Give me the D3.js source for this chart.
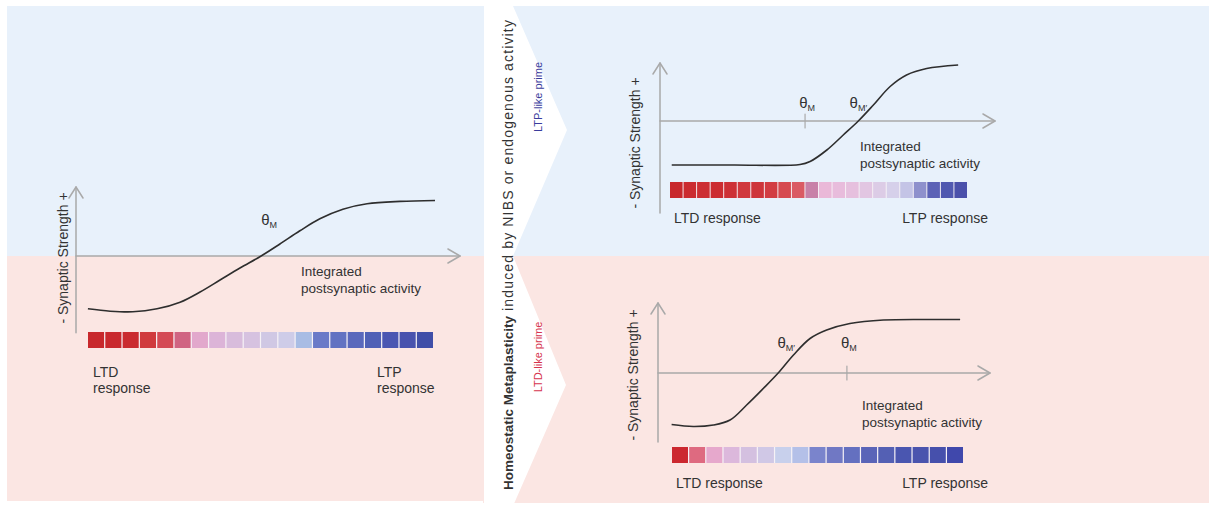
<!DOCTYPE html>
<html><head><meta charset="utf-8">
<script src="https://cdn.jsdelivr.net/npm/d3@7"></script>
<style>
body{margin:0;background:#fff}
svg{display:block}
text{font-family:"Liberation Sans",Arial,Helvetica,sans-serif;fill:#333}
</style>
</head><body>
<svg id="c" width="1213" height="506"></svg>
<script>
// ---------------- DATA ----------------
// Left (baseline) curve: integrated postsynaptic activity (0-10) vs synaptic strength (-1..1)
const leftActivity = [0.31,0.89,1.48,2.11,2.71,3.23,3.75,4.27,4.82,5.31,5.83,6.35,6.95,7.58,8.44,9.35];
const leftStrength = [-0.88,-0.92,-0.93,-0.88,-0.77,-0.60,-0.40,-0.20,0,0.20,0.42,0.62,0.78,0.87,0.91,0.925];
// Top right: after LTP-like prime (threshold shifted right)
const topActivity = [0.35,2.19,4.18,4.48,4.98,5.47,5.92,6.37,6.87,7.36,7.96,8.90];
const topStrength = [-0.88,-0.88,-0.87,-0.81,-0.58,-0.28,0,0.32,0.69,0.92,1.05,1.12];
// Bottom right: after LTD-like prime (threshold shifted left)
const bottomActivity = [0.41,1.06,1.67,2.17,2.67,3.17,3.62,4.08,4.58,5.08,5.78,6.79,8.29,9.10];
const bottomStrength = [-1.03,-1.07,-1.04,-0.94,-0.64,-0.31,0,0.36,0.69,0.86,0.99,1.06,1.07,1.07];

// Response colour bars (LTD -> LTP)
const leftBarColors = ["#c8282c","#c9292e","#ca2b30","#d03a3d","#d44a55","#d06482","#e2a8cc","#dcb4d8","#d8bcdc","#d6c2e0","#d0c8e4","#cecce8","#a8bce4","#6a7ac8","#6272c2","#5a68bc","#5060b6","#4a56b2","#4852ae","#404ea8"];
const topBarColors = ["#c8282c","#cb2b30","#cc2e33","#cc2c31","#cd3036","#d0383e","#ce343a","#d23c42","#d64a50","#da5a64","#c880a8","#eab8d8","#e8bcdc","#e6c0de","#e2c6e2","#dccce6","#d6d0ea","#c4c4e6","#8e90cc","#5c62b6","#5058b0","#4a50aa"];
const bottomBarColors = ["#cc2830","#de6a80","#e6a8cc","#dcb8dc","#d4c0e0","#d0c8e6","#c8d0ec","#b4c0e8","#7a84cc","#7078c4","#6470c0","#5a64b8","#5460b4","#4a56b0","#4a54ae","#4650ac","#4048ac"];

// Threshold (theta_M) markers
const leftThetaSub = ["M"];       const leftThetaAt = [4.82];
const topThetaSub = ["M","M\u2032"];   const topThetaAt = [4.33,5.92];
const bottomThetaSub = ["M\u2032","M"]; const bottomThetaAt = [3.62,5.69];
const topTickAt = [4.33];
const bottomTickAt = [5.69];

// Texts
const yAxisLabel = "- Synaptic Strength +";
const xAxisLabel = ["Integrated","postsynaptic activity"];
const titleBold = "Homeostatic Metaplasticity";
const titleRest = " induced by NIBS or endogenous activity";
const primeLTP = "LTP-like prime";
const primeLTD = "LTD-like prime";

// ---------------- DRAW ----------------
const svg = d3.select("#c");
const BLUE = "#e8f1fb", PINK = "#fbe6e3", AXIS = "#a9a9a9";

// backgrounds
svg.append("rect").attr("x",7).attr("y",6).attr("width",476).attr("height",250).attr("fill",BLUE);
svg.append("rect").attr("x",7).attr("y",256).attr("width",476).attr("height",245).attr("fill",PINK);
svg.append("rect").attr("x",483).attr("y",6).attr("width",726).attr("height",250).attr("fill",BLUE);
svg.append("rect").attr("x",483).attr("y",256).attr("width",726).attr("height",247).attr("fill",PINK);
// white chevron band
svg.append("path").attr("fill","#fff")
  .attr("d","M484,0 L513,0 L513,6 L567,130 L513,256 L566,385 L513,506 L484,506 Z");

// title (vertical)
const tt = svg.append("text").attr("transform","translate(508,490) rotate(-90)")
  .attr("dominant-baseline","central").style("font-size","13.5px");
tt.append("tspan").style("font-weight","bold").text(titleBold);
tt.append("tspan").style("font-size","14px").style("letter-spacing","1.15px").text(titleRest);

svg.append("text").attr("transform","translate(538,97) rotate(-90)")
  .attr("text-anchor","middle").attr("dominant-baseline","central")
  .style("font-size","11px").style("fill","#3a3c9c").text(primeLTP);
svg.append("text").attr("transform","translate(538,357) rotate(-90)")
  .attr("text-anchor","middle").attr("dominant-baseline","central")
  .style("font-size","11px").style("fill","#d6344e").text(primeLTD);

function drawChart(cfg, act, str, colors, thSub, thAt, ticks){
  const g = svg.append("g");
  const xs = d3.scaleLinear().domain([0,10]).range([cfg.x0, cfg.x0 + cfg.xLen]);
  const ys = d3.scaleLinear().domain([-1,1]).range([cfg.y0 + cfg.unit, cfg.y0 - cfg.unit]);
  // axes
  const ax = g.append("g").attr("stroke",AXIS).attr("stroke-width",1.5).attr("fill","none").attr("stroke-linecap","round").attr("stroke-linejoin","round");
  ax.append("line").attr("x1",xs(0)).attr("x2",xs(0)).attr("y1",ys(cfg.yBottom)).attr("y2",ys(cfg.yTop));
  ax.append("line").attr("x1",xs(0)).attr("x2",xs(10)).attr("y1",ys(0)).attr("y2",ys(0));
  ax.append("path").attr("d",`M${xs(0)-7},${ys(cfg.yTop)+11} L${xs(0)},${ys(cfg.yTop)} L${xs(0)+7},${ys(cfg.yTop)+11}`);
  ax.append("path").attr("d",`M${xs(10)-12},${ys(0)-7} L${xs(10)},${ys(0)} L${xs(10)-12},${ys(0)+7}`);
  ticks.forEach(t=>{
    ax.append("line").attr("x1",xs(t)).attr("x2",xs(t)).attr("y1",ys(0)-7).attr("y2",ys(0)+7).attr("stroke-width",1.2);
  });
  // y label
  g.append("text").attr("transform",`translate(${cfg.yLabX},${cfg.yLabY}) rotate(-90)`)
    .attr("text-anchor","middle").attr("dominant-baseline","central")
    .style("font-size","14px").text(yAxisLabel);
  // curve
  const pts = act.map((a,i)=>[a,str[i]]);
  g.append("path").datum(pts).attr("fill","none").attr("stroke","#2e2e2e").attr("stroke-width",1.6)
    .attr("d", d3.line().x(d=>xs(d[0])).y(d=>ys(d[1])).curve(d3.curveCatmullRom.alpha(0.5)));
  // theta labels
  thAt.forEach((v,i)=>{
    const t = g.append("text").attr("x", xs(v) + cfg.thDx[i]).attr("y", ys(0) - cfg.thDy)
      .attr("text-anchor","middle").style("font-size","15px");
    t.append("tspan").text("\u03B8");
    t.append("tspan").attr("dy",3).style("font-size","9px").text(thSub[i]);
  });
  // x label
  g.append("text").attr("x",cfg.intX).attr("y",cfg.intY).style("font-size","13.5px").text(xAxisLabel[0]);
  g.append("text").attr("x",cfg.intX).attr("y",cfg.intY+17).style("font-size","13.5px").text(xAxisLabel[1]);
  // colour bar
  const bx = d3.scaleBand().domain(d3.range(colors.length)).range([cfg.barX0, cfg.barX1]).paddingInner(0.07);
  g.append("rect").attr("x",cfg.barX0).attr("y",cfg.barY).attr("width",cfg.barX1-cfg.barX0).attr("height",16).attr("fill","#f6f2f6");
  g.selectAll(".cell").data(colors).join("rect")
    .attr("x",(d,i)=>bx(i)).attr("y",cfg.barY).attr("width",bx.bandwidth()).attr("height",16).attr("fill",d=>d);
  // response labels
  if(cfg.twoLine){
    g.append("text").attr("x",cfg.barX0+5).attr("y",cfg.respY).style("font-size","14px").text("LTD");
    g.append("text").attr("x",cfg.barX0+5).attr("y",cfg.respY+16).style("font-size","14px").text("response");
    g.append("text").attr("x",cfg.ltpX).attr("y",cfg.respY).style("font-size","14px").text("LTP");
    g.append("text").attr("x",cfg.ltpX).attr("y",cfg.respY+16).style("font-size","14px").text("response");
  } else {
    g.append("text").attr("x",cfg.barX0+4).attr("y",cfg.respY).style("font-size","14px").text("LTD response");
    g.append("text").attr("x",cfg.ltpEnd).attr("y",cfg.respY).attr("text-anchor","end").style("font-size","14px").text("LTP response");
  }
}

drawChart({x0:76,xLen:384,y0:256,unit:60,yTop:1.15,yBottom:-1.28,yLabX:63,yLabY:258,
  thDx:[8],thDy:31,intX:301,intY:276,barX0:88,barX1:433,barY:332,twoLine:true,respY:377,ltpX:377},
  leftActivity,leftStrength,leftBarColors,leftThetaSub,leftThetaAt,[]);

drawChart({x0:660,xLen:335,y0:121,unit:50,yTop:1.16,yBottom:-1.84,yLabX:635,yLabY:143,
  thDx:[2,0],thDy:13,intX:860,intY:151,barX0:670,barX1:967,barY:182,twoLine:false,respY:223,ltpEnd:988},
  topActivity,topStrength,topBarColors,topThetaSub,topThetaAt,topTickAt);

drawChart({x0:658,xLen:332,y0:373,unit:50,yTop:1.4,yBottom:-1.38,yLabX:633,yLabY:375,
  thDx:[8,2],thDy:25,intX:862,intY:410,barX0:672,barX1:963,barY:447,twoLine:false,respY:488,ltpEnd:988},
  bottomActivity,bottomStrength,bottomBarColors,bottomThetaSub,bottomThetaAt,bottomTickAt);
</script>
</body></html>
